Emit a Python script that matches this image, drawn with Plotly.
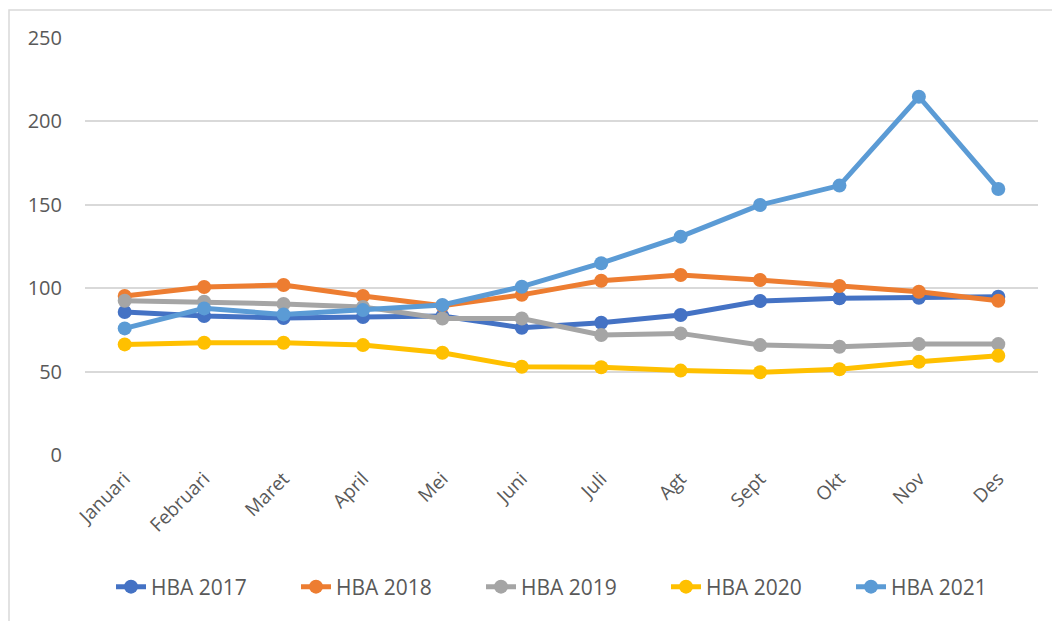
import plotly.graph_objects as go

months = ['Januari', 'Februari', 'Maret', 'April', 'Mei', 'Juni',
          'Juli', 'Agt', 'Sept', 'Okt', 'Nov', 'Des']

hba_2017 = [85.7, 83.3, 82.1, 82.7, 83.3, 76.3, 79.3, 83.9, 92.3, 93.9, 94.3, 94.9]
hba_2018 = [95.3, 100.7, 101.9, 95.3, 89.5, 96.0, 104.5, 107.9, 104.9, 101.3, 97.9, 92.5]
hba_2019 = [92.5, 91.9, 90.6, 88.8, 81.8, 81.8, 71.9, 72.9, 65.9, 64.9, 66.5, 66.5]
hba_2020 = [66.3, 67.3, 67.3, 65.9, 61.3, 52.9, 52.6, 50.6, 49.6, 51.4, 55.9, 59.5]
hba_2021 = [75.9, 87.9, 84.3, 86.9, 89.9, 100.9, 115.0, 130.9, 149.9, 161.5, 214.8, 159.5]

series = [
    ('HBA 2017', hba_2017, '#4472C4'),
    ('HBA 2018', hba_2018, '#ED7D31'),
    ('HBA 2019', hba_2019, '#A5A5A5'),
    ('HBA 2020', hba_2020, '#FFC000'),
    ('HBA 2021', hba_2021, '#5B9BD5'),
]

# page body adds an 8px offset, so margins are set 8px smaller on left/top
W, H = 1060, 621
ml, mr, mt, mb = 77, 30, 30, 174
pw, ph = W - ml - mr, H - mt - mb

fig = go.Figure()
for name, vals, color in series:
    fig.add_trace(go.Scatter(x=months, y=vals, name=name, mode='lines+markers',
                             line=dict(color=color, width=5),
                             marker=dict(color=color, size=14)))

# outer chart frame (left + top visible)
fig.add_shape(type='rect', xref='paper', yref='paper',
              x0=(1 - ml) / pw, x1=(W + 30 - ml) / pw,
              y0=-(H + 30 - mt - ph) / ph, y1=(mt + ph - 2) / ph,
              line=dict(color='#D9D9D9', width=1.5), layer='below')

font = '"Open Sans", sans-serif'
fig.update_layout(
    width=W, height=H,
    margin=dict(l=ml, r=mr, t=mt, b=mb, autoexpand=False),
    plot_bgcolor='white', paper_bgcolor='white',
    font=dict(family=font, size=19, color='#595959'),
    showlegend=True,
    legend=dict(orientation='h', x=0.5 + 12 / pw, xanchor='center',
                y=(mt + ph - 579) / ph, yanchor='middle',
                font=dict(size=21, color='#595959'),
                entrywidth=140, entrywidthmode='pixels', tracegroupgap=0),
    xaxis=dict(showgrid=False, showline=False, ticks='', tickangle=-45,
               range=[-0.5, len(months) - 0.5],
               automargin=False, ticklabelstandoff=8,
               tickfont=dict(size=19, color='#595959')),
    yaxis=dict(range=[0, 250], dtick=50, showgrid=True, gridcolor='#D9D9D9',
               gridwidth=1.5, zeroline=False, showline=False, ticks='',
               automargin=False, ticklabelstandoff=22,
               tickfont=dict(size=20, color='#595959')),
)

fig.write_html("out.html")
